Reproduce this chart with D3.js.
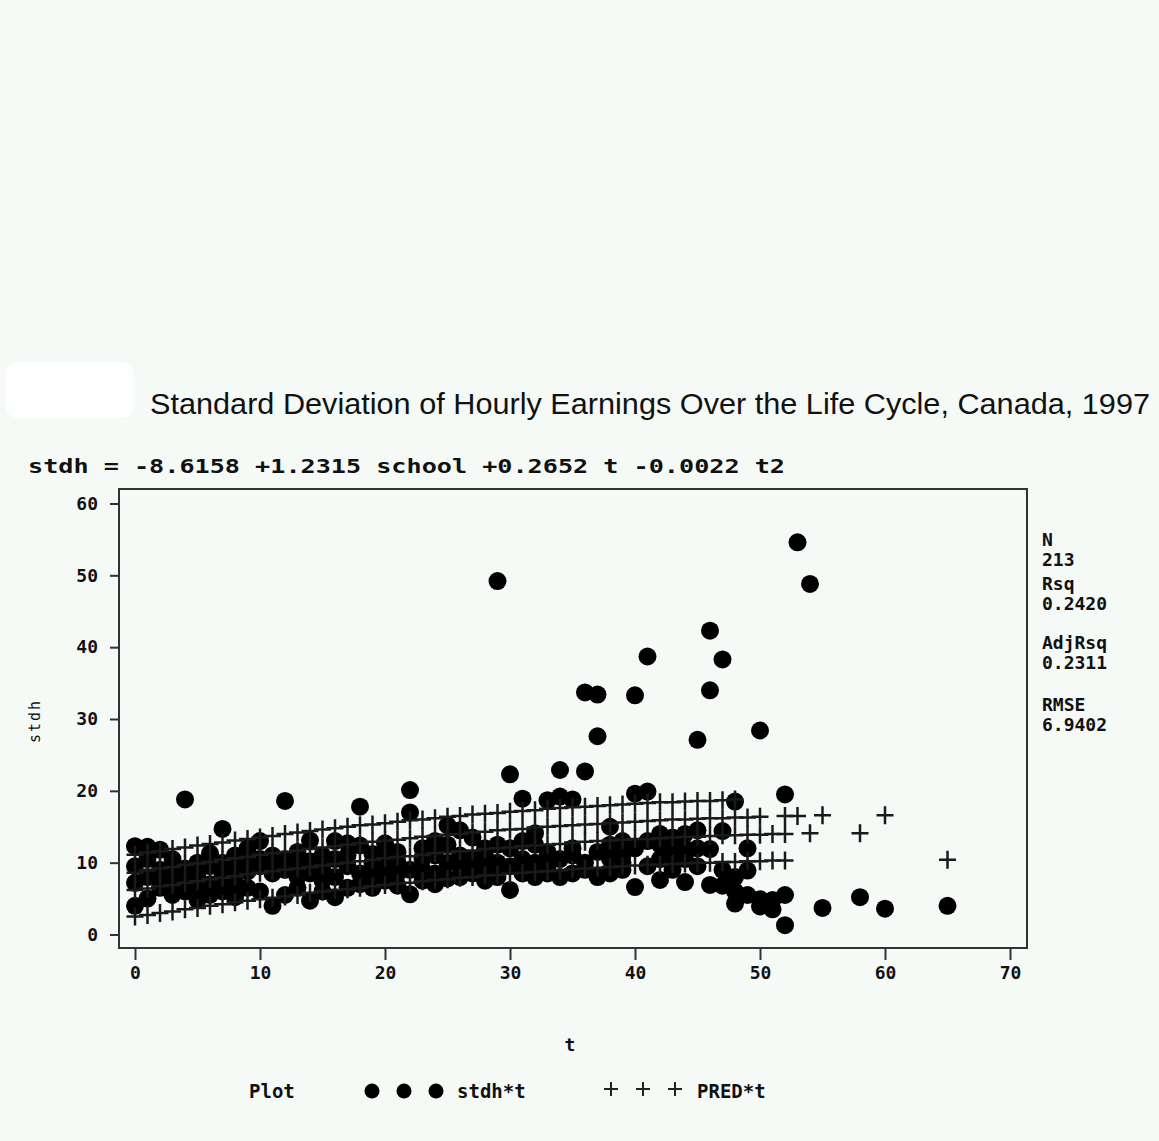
<!DOCTYPE html>
<html><head><meta charset="utf-8">
<script src="https://cdn.jsdelivr.net/npm/d3@7"></script>
<style>html,body{margin:0;padding:0;background:#f6faf7;} svg{display:block}</style>
</head><body>
<svg id="c" width="1159" height="1141"></svg>
<script>
// ---------- data ----------
const titleText = "Standard Deviation of Hourly Earnings Over the Life Cycle, Canada, 1997";
const equationText = "stdh = -8.6158 +1.2315 school +0.2652 t -0.0022 t2";
const xTicks = [0,10,20,30,40,50,60,70];
const yTicks = [0,10,20,30,40,50,60];
const statLines = ["N","213","Rsq","0.2420","AdjRsq","0.2311","RMSE","6.9402"];

// school = 9
const tS9 = [0,1,2,3,4,5,6,7,8,9,10,11,12,13,14,15,16,17,18,19,20,21,22,23,24,25,26,27,28,29,30,31,32,33,34,35,36,37,38,39,40,41,42,43,44,45,46,47,48,49,50,51,52,65];
const stdhS9 = [4.0,5.0,6.5,5.5,6.0,4.8,5.5,6.0,5.2,6.5,6.0,4.0,5.5,6.5,4.7,6.0,5.2,6.5,7.0,6.5,7.5,6.8,5.6,7.5,7.0,7.8,8.0,8.5,7.5,8.0,6.2,8.5,8.0,8.5,8.0,8.5,9.0,8.0,8.5,9.0,6.6,9.5,7.6,9.0,7.3,9.5,6.9,6.8,4.3,8.9,4.9,4.8,1.3,4.0];
const predS9 = [2.5,2.7,3.0,3.2,3.5,3.7,4.0,4.2,4.5,4.7,4.9,5.1,5.3,5.5,5.8,6.0,6.2,6.3,6.5,6.7,6.9,7.1,7.2,7.4,7.6,7.7,7.9,8.0,8.2,8.3,8.5,8.6,8.7,8.8,8.9,9.1,9.2,9.3,9.4,9.5,9.6,9.7,9.7,9.8,9.9,10.0,10.0,10.1,10.1,10.2,10.2,10.3,10.3,10.4];
// school = 12
const tS12 = [0,1,2,3,4,5,6,7,8,9,10,11,12,13,14,15,16,17,18,19,20,21,22,23,24,25,26,27,28,29,30,31,32,33,34,35,36,37,38,39,40,41,42,43,44,45,46,47,48,49,50,51,52,54,58];
const stdhS12 = [7.2,8.0,7.5,8.5,7.8,6.5,9.5,8.0,7.2,8.8,9.5,8.5,9.0,8.0,8.5,9.0,8.0,9.5,8.5,9.8,9.0,10.0,9.0,10.5,8.5,10.0,9.5,10.5,9.0,10.0,9.5,10.5,10.0,9.5,10.5,11.0,10.0,11.5,10.5,11.0,12.0,13.0,10.5,11.5,12.0,12.0,11.9,9.0,6.0,12.0,3.9,3.5,5.5,48.8,5.2];
const predS12 = [6.2,6.4,6.7,6.9,7.2,7.4,7.7,7.9,8.1,8.4,8.6,8.8,9.0,9.2,9.4,9.6,9.8,10.0,10.2,10.4,10.6,10.8,10.9,11.1,11.3,11.4,11.6,11.7,11.9,12.0,12.1,12.3,12.4,12.5,12.6,12.8,12.9,13.0,13.1,13.2,13.3,13.3,13.4,13.5,13.6,13.6,13.7,13.8,13.8,13.9,13.9,14.0,14.0,14.1,14.1];
// school = 14
const tS14 = [0,1,2,3,4,5,6,7,8,9,10,11,12,13,14,15,16,17,18,19,20,21,22,23,24,25,26,27,28,29,30,31,32,33,34,35,36,37,38,39,40,41,42,43,44,45,46,47,48,49,50,52,53,55,60];
const stdhS14 = [9.5,10.5,9.0,7.0,9.2,8.5,7.0,10.0,9.0,10.5,10.5,11.0,10.5,11.5,13.1,11.0,13.0,12.7,12.4,11.2,12.7,11.5,17.0,12.0,13.0,15.2,14.5,13.5,11.0,12.5,12.0,13.0,14.1,11.5,19.2,12.0,22.7,27.6,15.0,13.0,19.6,19.9,12.5,13.5,14.0,14.5,34.0,14.4,8.0,5.5,28.4,19.5,54.6,3.7,3.6];
const predS14 = [8.6,8.9,9.2,9.4,9.7,9.9,10.1,10.4,10.6,10.8,11.1,11.3,11.5,11.7,11.9,12.1,12.3,12.5,12.7,12.9,13.1,13.2,13.4,13.6,13.7,13.9,14.0,14.2,14.3,14.5,14.6,14.7,14.9,15.0,15.1,15.2,15.3,15.4,15.5,15.6,15.7,15.8,15.9,16.0,16.0,16.1,16.2,16.2,16.3,16.3,16.4,16.5,16.5,16.6,16.6];
// school = 16
const tS16 = [0,1,2,3,4,5,6,7,8,9,10,11,12,13,14,15,16,17,18,19,20,21,22,23,24,25,26,27,28,29,30,31,32,33,34,35,36,37,38,39,40,41,42,43,44,45,46,47,48];
const stdhS16 = [12.3,12.2,11.8,10.5,18.8,10.0,11.3,14.7,11.0,12.0,13.0,9.8,18.6,10.0,10.2,7.5,10.5,11.0,17.8,8.0,10.5,8.5,20.1,9.0,11.0,12.5,11.0,9.0,12.0,49.2,22.3,18.9,12.5,18.7,22.9,18.8,33.7,33.4,12.5,10.0,33.3,38.7,14.0,10.0,10.5,27.1,42.3,38.3,18.5];
const predS16 = [11.1,11.4,11.6,11.9,12.1,12.4,12.6,12.8,13.1,13.3,13.5,13.7,14.0,14.2,14.4,14.6,14.8,15.0,15.2,15.3,15.5,15.7,15.9,16.0,16.2,16.4,16.5,16.7,16.8,16.9,17.1,17.2,17.3,17.5,17.6,17.7,17.8,17.9,18.0,18.1,18.2,18.3,18.4,18.4,18.5,18.6,18.6,18.7,18.8];

// ---------- build ----------
const bands = [
  {t:tS9, s:stdhS9, p:predS9},
  {t:tS12, s:stdhS12, p:predS12},
  {t:tS14, s:stdhS14, p:predS14},
  {t:tS16, s:stdhS16, p:predS16}
];
const obs = [];
bands.forEach(b => b.t.forEach((t,i) => obs.push({t, stdh:b.s[i], pred:b.p[i]})));

const svg = d3.select("#c");
const FONT = "'DejaVu Sans Mono', monospace";
const frame = {l:119, t:489, r:1027, b:948};
const x = d3.scaleLinear().domain([0,70]).range([135,1010]);
const y = d3.scaleLinear().domain([0,60]).range([934.5,503.5]);

// washed-out logo area
svg.append("rect").attr("x",6).attr("y",362).attr("width",128).attr("height",56)
  .attr("rx",12).attr("fill","#fdfefd");

// title
svg.append("text").attr("x",150).attr("y",414)
  .attr("font-family","'Liberation Sans', Arial, sans-serif").attr("font-size",29)
  .attr("textLength",1000).attr("lengthAdjust","spacingAndGlyphs")
  .attr("fill","#111").text(titleText);

// equation
svg.append("text").attr("x",28).attr("y",473)
  .attr("font-family",FONT).attr("font-weight","bold").attr("font-size",20)
  .attr("textLength",757).attr("lengthAdjust","spacingAndGlyphs")
  .attr("fill","#111").text(equationText);

// plot clip
svg.append("clipPath").attr("id","pc").append("rect")
  .attr("x",frame.l).attr("y",frame.t).attr("width",frame.r-frame.l).attr("height",frame.b-frame.t);
const plot = svg.append("g").attr("clip-path","url(#pc)");

// dots
plot.append("g").selectAll("circle").data(obs).join("circle")
  .attr("cx",d=>x(d.t)).attr("cy",d=>y(d.stdh)).attr("r",9).attr("fill","#000");

// crosses
plot.append("g").selectAll("path").data(obs).join("path")
  .attr("d",d=>`M${x(d.t)-8.5},${y(d.pred)}h17M${x(d.t)},${y(d.pred)-9}v18`)
  .attr("stroke","#1a1a1a").attr("stroke-width",2.5).attr("fill","none");

// frame
svg.append("rect").attr("x",frame.l).attr("y",frame.t)
  .attr("width",frame.r-frame.l).attr("height",frame.b-frame.t)
  .attr("fill","none").attr("stroke","#333").attr("stroke-width",2);

// axes
const ax = svg.append("g").attr("transform",`translate(0,${frame.b})`)
  .call(d3.axisBottom(x).tickValues(xTicks).tickSize(12).tickPadding(6));
const ay = svg.append("g").attr("transform",`translate(${frame.l},0)`)
  .call(d3.axisLeft(y).tickValues(yTicks).tickSize(9).tickPadding(12));
[ax,ay].forEach(a=>{
  a.select(".domain").remove();
  a.selectAll("line").attr("stroke","#333").attr("stroke-width",2);
  a.selectAll("text").attr("font-family",FONT).attr("font-weight","bold")
    .attr("font-size",18).attr("fill","#111");
});

// axis titles
svg.append("text").attr("transform","translate(40,721) rotate(-90)")
  .attr("text-anchor","middle").attr("font-family",FONT).attr("font-size",15)
  .attr("letter-spacing",2).attr("fill","#111").text("stdh");
svg.append("text").attr("x",570).attr("y",1051).attr("text-anchor","middle")
  .attr("font-family",FONT).attr("font-weight","bold").attr("font-size",18)
  .attr("fill","#111").text("t");

// stats
const statY = [540,560,584,604,643,663,705,725];
svg.append("g").selectAll("text").data(statLines).join("text")
  .attr("x",1042).attr("y",(d,i)=>statY[i]+6)
  .attr("font-family",FONT).attr("font-weight","bold").attr("font-size",18)
  .attr("fill","#111").text(d=>d);

// legend
const lg = svg.append("g");
const LY = 1091;
lg.append("text").attr("x",249).attr("y",LY+7).attr("font-family",FONT)
  .attr("font-weight","bold").attr("font-size",19).attr("fill","#111").text("Plot");
[372,404,436].forEach(cx=>lg.append("circle").attr("cx",cx).attr("cy",LY).attr("r",7.5).attr("fill","#000"));
lg.append("text").attr("x",457).attr("y",LY+7).attr("font-family",FONT)
  .attr("font-weight","bold").attr("font-size",19).attr("fill","#111").text("stdh*t");
[611,643,675].forEach(cx=>lg.append("path").attr("d",`M${cx-7},${LY-2}h14M${cx},${LY-9}v14`)
  .attr("stroke","#222").attr("stroke-width",2));
lg.append("text").attr("x",697).attr("y",LY+7).attr("font-family",FONT)
  .attr("font-weight","bold").attr("font-size",19).attr("fill","#111").text("PRED*t");
</script>
</body></html>
